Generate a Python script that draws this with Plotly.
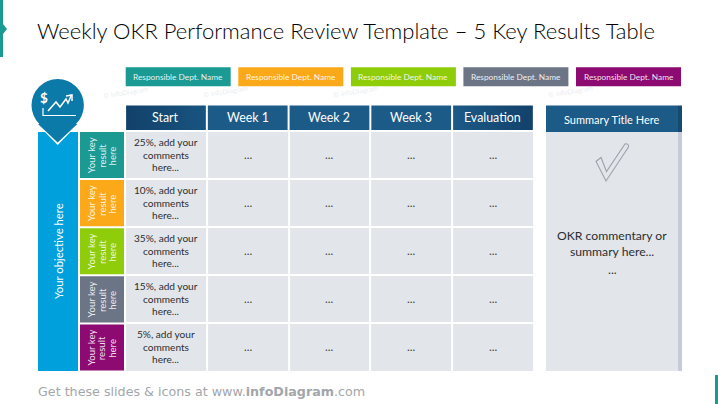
import plotly.graph_objects as go

# ---- data ----
TITLE = "Weekly OKR Performance Review Template – 5 Key Results Table"
DEPTS = ["Responsible Dept. Name"] * 5
COLUMNS = ["Start", "Week 1", "Week 2", "Week 3", "Evaluation"]
KEY_RESULTS = ["Your key|result|here"] * 5
START_PCT = [25, 10, 35, 15, 5]
WEEK_TEXT = "..."
OBJECTIVE = "Your objective here"
SUMMARY_TITLE = "Summary Title Here"
SUMMARY_LINES = ["OKR commentary or", "summary here...", "..."]
FOOTER = "Get these slides &amp; icons at www.<b>infoDiagram</b>.com"
WATERMARK = "© infoDiagram"

# ---- style / layout ----
W, H = 718, 404
FONT = "Lato"
DARK = "#2b2f33"
KR_COLORS = ["#1a9a93", "#fba919", "#8fcc0a", "#6c7586", "#8c0a71"]
GRID_X0, GRID_PITCH_X = 125.1, 81.75
GRID_Y0, GRID_PITCH_Y = 131.0, 48.1
CELL_FILL = "#e2e5e9"

shapes, notes, traces = [], [], []


def rect(x0, y0, x1, y1, fill):
    shapes.append(dict(type="rect", x0=x0, y0=y0, x1=x1, y1=y1, fillcolor=fill,
                       line_width=0, xref="x", yref="y", layer="below"))


def path(d, fill="rgba(0,0,0,0)", line=None, width=0, layer="above"):
    shapes.append(dict(type="path", path=d, fillcolor=fill, xref="x", yref="y", layer=layer,
                       line=dict(color=line or "rgba(0,0,0,0)", width=width)))


def circle(cx, cy, r, fill):
    shapes.append(dict(type="circle", x0=cx - r, y0=cy - r, x1=cx + r, y1=cy + r, fillcolor=fill,
                       line_width=0, xref="x", yref="y", layer="above"))


def text(x, y, s, size=11, color=DARK, angle=0, weight=None, family=FONT, anchor="center"):
    f = dict(size=size, color=color, family=family)
    if weight:
        f["weight"] = weight
    notes.append(dict(x=x, y=y, xref="x", yref="y", text=s, showarrow=False, font=f,
                      textangle=angle, xanchor=anchor, yanchor="middle",
                      borderpad=0, borderwidth=0))


def grad(x0, y0, x1, y1, c0, c1):
    traces.append(go.Scatter(
        x=[x0, x1, x1, x0, x0], y=[y0, y0, y1, y1, y0], mode="lines", line_width=0,
        fill="toself", hoverinfo="skip", showlegend=False,
        fillgradient=dict(type="horizontal", colorscale=[[0, c0], [1, c1]])))


# corner accents
rect(0, 0, 3, 57, "#1a9a93")
path("M 3 24 L 7 29 L 3 34 Z", "#1a9a93")
rect(715, 375, 718, 404, "#1a9a93")

# title
text(37, 30, TITLE, size=22, color="#000000", weight=300, anchor="left")

# dept chips
chip_x = [125.7, 238.3, 350.9, 463.4, 576]
for x, name, c in zip(chip_x, DEPTS, KR_COLORS):
    rect(x, 67.3, x + 105, 86.3, c)
    text(x + 52.5, 77, name, size=8.3, color="rgba(255,255,255,0.9)")

# faint watermarks
for x, y in [(125, 92), (355, 91), (570, 91), (225, 91)]:
    text(x, y, WATERMARK, size=7, color="rgba(215,222,228,0.55)", angle=-9)

# objective column
rect(38, 132, 78, 371, "#00a0dc")
text(58, 251, OBJECTIVE, size=11.3, color="#ffffff", angle=-90)

# key result cells and text
for i, (kr, c) in enumerate(zip(KEY_RESULTS, KR_COLORS)):
    y0 = GRID_Y0 + i * GRID_PITCH_Y
    rect(80, y0 + 1, 124, y0 + GRID_PITCH_Y - 1, c)
    for j, ln in enumerate(kr.split("|")):
        text(91.7 + j * 10.6, y0 + 24.5, ln, size=9.6, angle=-90, color="rgba(255,255,255,0.88)")

# table body: a heatmap whose cell edges are the grid
xe = [GRID_X0 + i * GRID_PITCH_X for i in range(len(COLUMNS) + 1)]
ye = [GRID_Y0 + i * GRID_PITCH_Y for i in range(len(KEY_RESULTS) + 1)]
traces.append(go.Heatmap(
    x=xe, y=ye, z=[[1] * len(COLUMNS) for _ in KEY_RESULTS],
    colorscale=[[0, CELL_FILL], [1, CELL_FILL]], showscale=False, xgap=2, ygap=2,
    hoverinfo="skip"))

# table body text
for r, pct in enumerate(START_PCT):
    yc = (ye[r] + ye[r + 1]) / 2
    for k, ln in enumerate([f"{pct}%, add your", "comments", "here..."]):
        text((xe[0] + xe[1]) / 2, yc + (k - 1) * 12.5 - 0.5, ln, size=10.1)
    for c in range(1, len(COLUMNS)):
        text((xe[c] + xe[c + 1]) / 2, yc - 1, WEEK_TEXT, size=11.5, color="#3a3e42")

# table header
head = [("#12416a", "#185480"), ("#1c5a87", "#1c5a87"), ("#1c5a87", "#1c5a87"),
        ("#1c5a87", "#1c5a87"), ("#1c5a87", "#12416a")]
for c, (name, (c0, c1)) in enumerate(zip(COLUMNS, head)):
    grad(xe[c] + 1, 105.5, xe[c + 1] - 1, 130, c0, c1)
    text((xe[c] + xe[c + 1]) / 2, 117.5, name, size=12.4, color="#ffffff")

# summary panel
rect(546, 132, 678, 371, CELL_FILL)
rect(678, 132, 682, 371, "#c6ccd7")
rect(546, 105.5, 678, 132, "#1c5a87")
rect(678, 105.5, 682, 132, "#174a6f")
text(612, 119, SUMMARY_TITLE, size=11, color="#ffffff")
for k, ln in enumerate(SUMMARY_LINES):
    text(612, 235.5 + k * 16.4 + (1 if k == 2 else 0), ln, size=12.2, color=DARK)

# check mark
path("M 596 161.5 L 601 157.5 L 606.5 171.5 L 625 144 C 627 143 629 145 628.5 147 L 606 181 Z",
     "rgba(0,0,0,0)", "#9aa3ad", 1.1)

# pin with icon
path("M 43 130 L 57.7 145 L 72.4 130 Z", "#ffffff")
path("M 38 124 L 57.7 142.5 L 77.4 124 Z", "#0b7aa8")
circle(57.7, 105.2, 26.2, "#0b7aa8")
path("M 43 108 L 43 115.5 L 76 115.5", line="#ffffff", width=1.2)
path("M 48 111 L 56 102 L 60 107 L 66 99 L 68 103 L 71 96", line="#ffffff", width=1.5)
path("M 66 96 L 72 95 L 72 101", line="#ffffff", width=1.5)
text(43.5, 98, "$", size=13.5, color="#ffffff", weight=700)

# footer
text(37.5, 391, FOOTER, size=12.7, color="#a2a6a9", family="DejaVu Sans", anchor="left")

fig = go.Figure(traces)
fig.update_layout(
    width=W, height=H, margin=dict(l=0, r=0, t=0, b=0, pad=0), autosize=False,
    paper_bgcolor="#ffffff", plot_bgcolor="#ffffff", showlegend=False,
    shapes=shapes, annotations=notes,
    xaxis=dict(range=[0, W], visible=False, fixedrange=True),
    yaxis=dict(range=[H, 0], visible=False, fixedrange=True),
)
fig.write_html("out.html", config=dict(displayModeBar=False),
               post_script="document.body.style.margin='0';document.body.style.overflow='hidden';")
